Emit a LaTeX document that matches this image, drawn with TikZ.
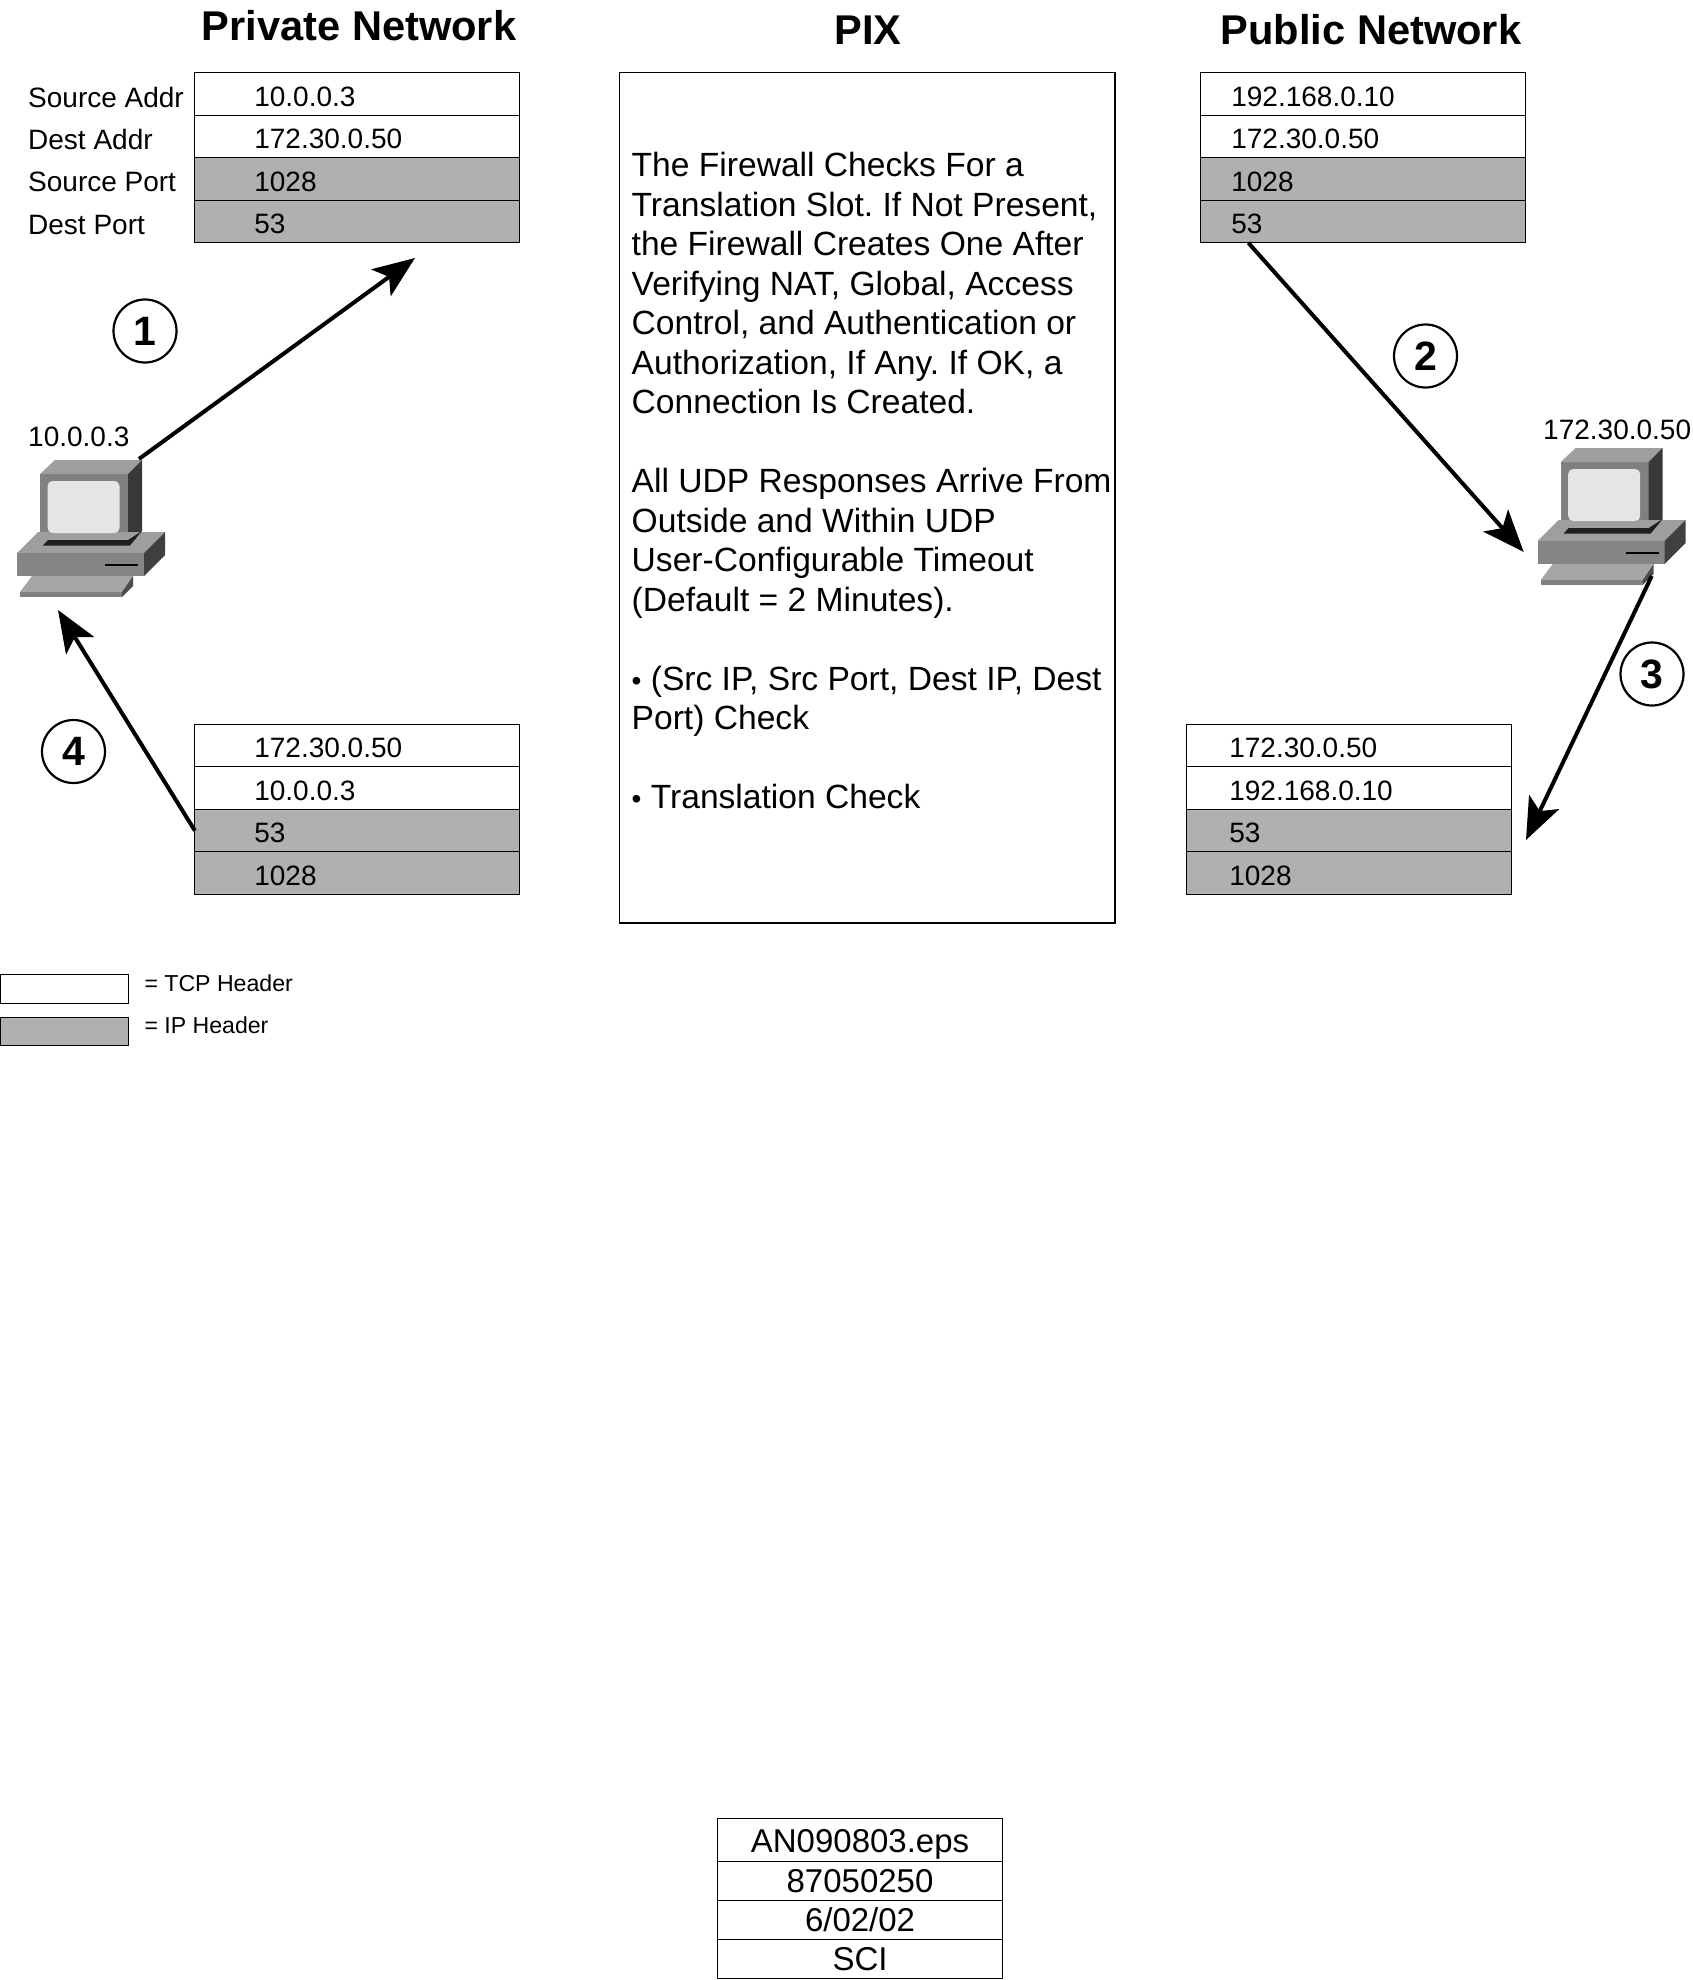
\documentclass[tikz,border=0pt]{standalone}
\usepackage{fontspec}
\setmainfont{Liberation Sans}
\usetikzlibrary{arrows.meta,matrix}
\definecolor{hdrgray}{HTML}{B0B0B0}
\tikzset{>={Stealth[length=42pt,width=33pt,inset=10pt]}}
\tikzset{pcbox/.pic={
  \fill[black!50] (40,474) rectangle (128,540);
  \fill[black!38] (40,474) -- (55,460) -- (142,460) -- (128,474) -- cycle;
  \fill[black!78] (128,474) -- (142,460) -- (142,531) -- (128,540) -- cycle;
  \fill[black!38] (38,532) -- (165,532) -- (144,553) -- (17,553) -- cycle;
  \fill[black!88] (48,540) -- (128,540) -- (142,531) -- (130,545.5) -- (43,545.5) -- cycle;
  \fill[black!48] (17,553) rectangle (144,576);
  \fill[black!75] (144,553) -- (165,532) -- (165,555) -- (144,576) -- cycle;
  \fill[black!10,rounded corners=5pt] (47.5,481) rectangle (119.5,533);
  \draw[line width=1.6pt] (105,565) -- (138,565);
  \fill[black!35] (32,576) -- (133,576) -- (122,592) -- (20,592) -- cycle;
  \fill[black!50] (20,592) rectangle (122,597);
  \fill[black!70] (122,592) -- (133,576) -- (133,586) -- (122,597) -- cycle;
  \coordinate (-top) at (139,459);
  \coordinate (-west) at (3,564);
  \coordinate (-south) at (58,610);
  \coordinate (-foot) at (131,588);
}}
\tikzset{pkt/.style={matrix of nodes,anchor=north west,inner sep=0pt,row sep=-1.2pt,
  row 3/.style={nodes={fill=hdrgray}},row 4/.style={nodes={fill=hdrgray}},
  nodes={draw,line width=1.2pt,outer sep=0pt,inner ysep=0pt,inner xsep=#1,
         text width=325pt-2*#1,align=left,
         minimum height=42.5pt,text height=30pt,text depth=6pt,
         font=\fontsize{28}{32}\selectfont}}}
\begin{document}
\begin{tikzpicture}[x=1pt,y=-1pt]

\tikzstyle{head}=[font=\fontsize{41.6}{46}\selectfont\bfseries]
\tikzstyle{lab}=[anchor=west,inner sep=0pt,font=\fontsize{28}{32}\selectfont]
\tikzstyle{num}=[draw,circle,line width=2.2pt,minimum size=63pt,inner sep=0pt,
                 font=\fontsize{41}{46}\selectfont\bfseries]
\tikzstyle{link}=[->,line width=4pt]
\tikzstyle{key}=[anchor=west,font=\fontsize{23.1}{27}\selectfont]

\useasboundingbox (0,0) rectangle (1693,1980);

\node[head] (hpriv) at (359,26) {Private Network};
\node[head] (hpix) at (868,30) {PIX};
\node[head] (hpub) at (1371,30) {Public Network};

\matrix (priv) at (194,72) [pkt=59.5pt] {
  10.0.0.3 \\ 172.30.0.50 \\ 1028 \\ 53 \\
};
\matrix (pub) at (1199.5,72) [pkt=31pt] {
  192.168.0.10 \\ 172.30.0.50 \\ 1028 \\ 53 \\
};
\matrix (privret) at (194,723.5) [pkt=59.5pt] {
  172.30.0.50 \\ 10.0.0.3 \\ 53 \\ 1028 \\
};
\matrix (pubret) at (1185.5,723.5) [pkt=43pt] {
  172.30.0.50 \\ 192.168.0.10 \\ 53 \\ 1028 \\
};

\node[lab] (lsa) at (28,97) {Source Addr};
\node[lab] (lda) at (28,139) {Dest Addr};
\node[lab] (lsp) at (28,182) {Source Port};
\node[lab] (ldp) at (28,225) {Dest Port};

\node[draw,line width=1.5pt,anchor=north west,minimum width=495.5pt,minimum height=850pt] (pixbox) at (618.5,72) {};
\node[anchor=north west,inner sep=0pt,align=left,font=\fontsize{33.6}{39.5}\selectfont\frenchspacing] (pixtext) at (631.5,152) {
The Firewall Checks For a\\
Translation Slot. If Not Present,\\
the Firewall Creates One After\\
Verifying NAT, Global, Access\\
Control, and Authentication or\\
Authorization, If Any. If OK, a\\
Connection Is Created.\\[39.5pt]
All UDP Responses Arrive From\\
Outside and Within UDP\\
User-Configurable Timeout\\
(Default = 2 Minutes).\\[39.5pt]
{\fontsize{28}{39.5}\selectfont •} (Src IP, Src Port, Dest IP, Dest\\
Port) Check\\[39.5pt]
{\fontsize{28}{39.5}\selectfont •} Translation Check};

\pic (pcleft) at (0,0) {pcbox};
\pic (pcright) at (1520.7,-12) {pcbox};
\node[lab] (ipleft) at (28,437) {10.0.0.3};
\node[lab] (ipright) at (1543,430) {172.30.0.50};

\node[num] (n1) at (145,331) {1};
\node[num] (n2) at (1425.5,356) {2};
\node[num] (n3) at (1652,674) {3};
\node[num] (n4) at (73.5,751.5) {4};

\coordinate (end1) at (415,258);
\coordinate (end3) at (1526,840);
\coordinate (start2) at ([xshift=48pt]pub-4-1.south west);

\draw[link] (pcleft-top) -- (end1);
\draw[link] (start2) -- (pcright-west);
\draw[link] (pcright-foot) -- (end3);
\draw[link] (privret-3-1.west) -- (pcleft-south);

\node[draw,line width=1.2pt,anchor=north west,minimum width=127.5pt,minimum height=28.5pt] (tcpkey) at (0,974) {};
\node[draw,line width=1.2pt,fill=hdrgray,anchor=north west,minimum width=127.5pt,minimum height=28.5pt] (ipkey) at (0,1016.5) {};
\node[key] (tcptxt) at (141,983) {= TCP Header};
\node[key] (iptxt) at (141,1025) {= IP Header};

\matrix (stamp) at (717,1818) [matrix of nodes,anchor=north west,inner sep=0pt,row sep=-1.2pt,
  row 1/.style={nodes={minimum height=43pt,text height=32pt}},
  nodes={draw,line width=1.2pt,outer sep=0pt,inner ysep=0pt,
         minimum width=284.5pt,minimum height=39pt,
         text height=30pt,text depth=7pt,
         font=\fontsize{33}{38}\selectfont}] {
  AN090803.eps \\ 87050250 \\ 6/02/02 \\ SCI \\
};

\end{tikzpicture}
\end{document}
